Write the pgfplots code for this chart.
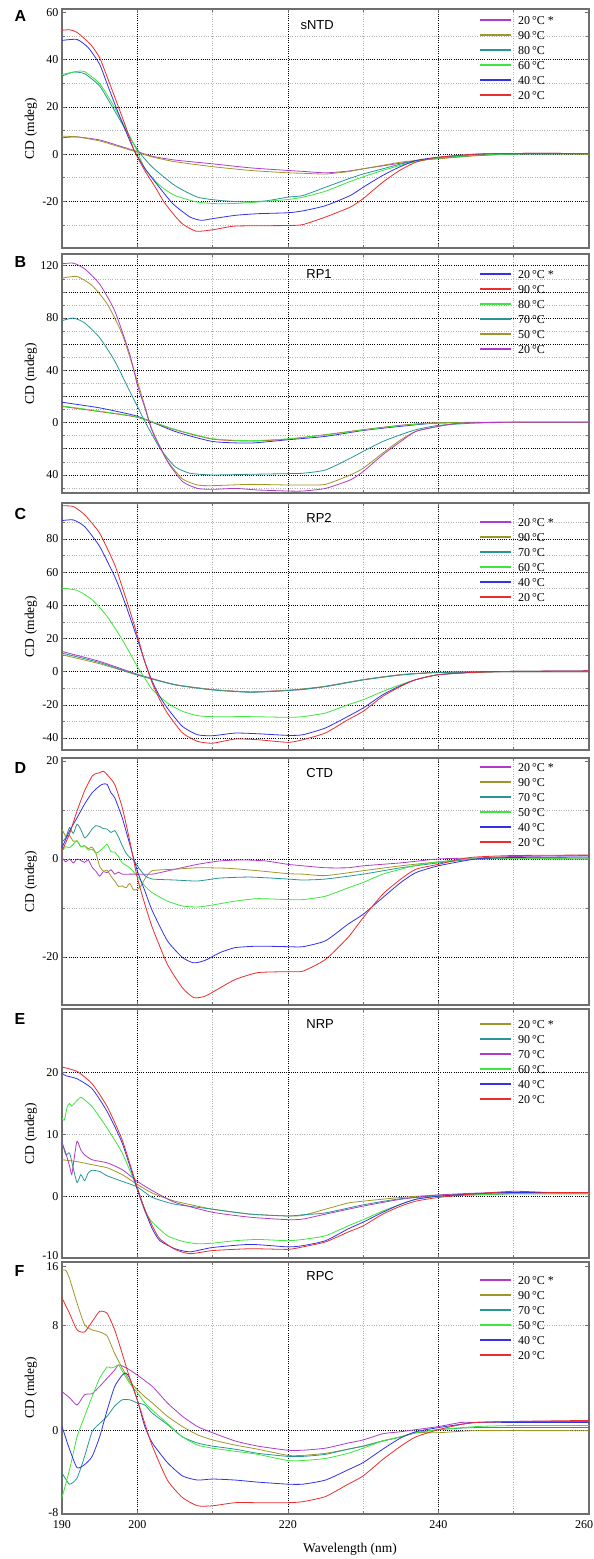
\documentclass[border=0pt]{standalone}
\usepackage{fontspec}
\setmainfont{Liberation Serif}
\newfontfamily\sansf{Liberation Sans}
\usepackage{pgfplots}
\pgfplotsset{compat=1.18}
\definecolor{cpur}{RGB}{175,60,200}
\definecolor{colv}{RGB}{160,150,40}
\definecolor{cteal}{RGB}{40,150,150}
\definecolor{cgrn}{RGB}{60,230,60}
\definecolor{cblu}{RGB}{50,50,230}
\definecolor{cred}{RGB}{235,45,45}
\definecolor{cframe}{RGB}{110,110,110}
\pgfplotsset{cd/.style={
  scale only axis, width=527pt, xmin=190, xmax=260,
  xtick={190,200,220,240,260}, xticklabels={},
  xmajorgrids=false, ymajorgrids=false, xminorgrids=true, yminorgrids=true,
  minor xtick={210,230,250},
  extra x ticks={200,220,240}, extra x tick labels={}, extra x tick style={grid=major},
  extra y tick labels={}, extra y tick style={grid=major},
  major grid style={black, line width=0.7pt, dash pattern=on 0.9pt off 1.3pt},
  minor grid style={black!30, line width=0.6pt, dash pattern=on 0.9pt off 1.5pt},
  axis line style={cframe, line width=1.2pt},
  tick style={cframe, line width=0.6pt}, tick align=inside, major tick length=4pt, minor tick length=3pt,
  ylabel={CD (mdeg)},
  ylabel style={at={(axis description cs:-0.0588,0.5)}, anchor=center, font=\fontsize{13.5}{13.5}\selectfont},
  ticklabel style={font=\fontsize{12}{12}\selectfont},
  legend cell align=left,
  legend style={draw=none, fill=none, anchor=north west, inner sep=0pt, row sep=0pt, column sep=6pt,
    font=\fontsize{12}{12}\selectfont, nodes={inner sep=0pt, text height=11.5pt, text depth=3.5pt}},
  legend image code/.code={\draw[#1,line width=1.8pt] (0pt,0pt) -- (31pt,0pt);},
  every axis plot/.append style={line width=0.8pt, no marks, smooth, tension=0.35},
}}
\begin{document}
\begin{tikzpicture}
\useasboundingbox (0pt,0pt) rectangle (594pt,1559pt);
% ---------------- A ----------------
\begin{axis}[cd, at={(62pt,1311pt)}, anchor=south west, height=239pt, ymin=-39.7, ymax=61.4,
  ytick={-20,0,20,40,60}, yticklabels={-20,0,20,40,60},
  extra y ticks={-20,0,20,40}, minor ytick={-30,-10,10,30,50},
  legend style={at={(rel axis cs:0.7913,0.985)}}]
\addplot[cpur] coordinates {(190,6.9)(192,7.3)(195,6.0)(197,4.1)(199.5,1.6)(202,-0.9)(205,-2.5)(210,-4.1)(215,-5.8)(220,-6.9)(222,-7.3)(225,-7.9)(228,-7.2)(230,-6.2)(232.5,-5)(235,-3.8)(237,-2.8)(240,-1.7)(245,-0.5)(250,0.1)(255,0.2)(260,0.2)};
\addlegendentry{20\,°C *}
\addplot[colv] coordinates {(190,7.6)(192,7.3)(195,5.6)(197,3.7)(199.5,1.3)(202,-1.2)(205,-3.2)(210,-5.3)(215,-6.9)(220,-7.9)(222,-8.1)(225,-8.4)(228,-7.4)(230,-6.2)(232.5,-4.8)(235,-3.4)(237,-2.7)(240,-2)(245,-0.7)(250,0)(260,0)};
\addlegendentry{90\,°C}
\addplot[cteal] coordinates {(190,33)(191.5,34.7)(193,34)(195,28.8)(197,18.3)(200,2)(202,-5.5)(205,-13.3)(208,-18.2)(211,-19.6)(214,-20.2)(217,-19.8)(220,-18.2)(222,-17.5)(225,-14)(228,-10.5)(230,-8.4)(232.5,-6.3)(235,-4.2)(237,-2.8)(240,-1.6)(245,-0.5)(250,0)(260,0.2)};
\addlegendentry{80\,°C}
\addplot[cgrn] coordinates {(190,33.7)(192,35)(193,34.9)(195,29.8)(197,19.7)(199.8,2.5)(201,-6.1)(203,-13.3)(205,-17.5)(208,-20.3)(211,-21)(214,-20.7)(217,-20)(220,-19.2)(222,-18.2)(225,-15.7)(228,-11.9)(230,-9.6)(232.5,-7)(235,-4.7)(237,-3.2)(240,-1.6)(245,-0.4)(250,0.1)(260,0.2)};
\addlegendentry{60\,°C}
\addplot[cblu] coordinates {(190,48.1)(192,48.5)(193.5,45)(195,38)(196.1,28.8)(197.2,19.7)(198.5,9.5)(199.6,1.5)(201,-6)(202.4,-11.9)(204.7,-20.9)(207,-26.6)(208.5,-28)(210,-27.3)(213,-25.9)(216,-25.2)(220,-24.8)(222,-24)(225,-21.8)(228.3,-17.5)(230,-14)(232.6,-9)(234.8,-5.5)(237,-2.7)(240,-1.3)(245,0)(250,0.3)(260,0.3)};
\addlegendentry{40\,°C}
\addplot[cred] coordinates {(190,52.4)(191,52.6)(192,51.5)(193.8,46.4)(195,40.8)(196.1,31.8)(197.2,22.5)(198.5,11.3)(199.6,1.5)(201,-7)(202.4,-14)(203.5,-20)(204.7,-25)(206,-29.5)(207.8,-32.6)(210,-32)(212.7,-30.5)(215.3,-30.3)(220,-30.2)(222,-29.8)(225,-26.6)(228.3,-22.4)(230,-18.8)(232.6,-11.9)(234.8,-7)(237,-3.4)(240,-1.3)(245,0)(250,0.3)(260,0.3)};
\addlegendentry{20\,°C}
\node[anchor=west, font=\sansf\fontsize{13}{13}\selectfont] at (rel axis cs:0.446,0.933) {sNTD};
\end{axis}
% ---------------- B ----------------
\begin{axis}[cd, at={(62pt,1066pt)}, anchor=south west, height=239pt, ymin=-53.8, ymax=129,
  ytick={-40,0,40,80,120}, yticklabels={40,0,40,80,120},
  extra y ticks={-40,-20,0,20,40,60,80,100,120}, minor ytick={-50,-30,-10,10,30,50,70,90,110},
  legend style={at={(rel axis cs:0.7913,0.948)}}]
\addplot[cblu] coordinates {(190,15.6)(195,11.3)(200,4.9)(205,-6.7)(210,-14.4)(215,-15.6)(220,-13.1)(225,-10.5)(230,-6)(235,-2.8)(240,-0.3)(250,0.3)(260,0.3)};
\addlegendentry{20\,°C *}
\addplot[cred] coordinates {(190,12.4)(195,8.5)(200,4.1)(205,-5.4)(210,-12.6)(215,-14.1)(220,-12.6)(225,-9.2)(230,-5.4)(235,-2)(240,0)(250,0.3)(260,0.3)};
\addlegendentry{90\,°C}
\addplot[cgrn] coordinates {(190,12.8)(195,8.8)(200,4.3)(205,-5.2)(210,-12.3)(215,-13.8)(220,-12.4)(225,-9.4)(230,-5.6)(235,-2.2)(240,-0.2)(250,0.2)(260,0.2)};
\addlegendentry{80\,°C}
\addplot[cteal] coordinates {(190,78)(191.5,80)(193,76.3)(195,65)(197,47.2)(199,24)(200,12.6)(201,1)(203,-19.5)(205,-33.6)(207,-38.7)(210,-40)(215,-39.5)(220,-39)(222,-38.7)(225,-36.2)(228.3,-27.2)(230,-22)(232.6,-14.4)(235,-9.2)(237,-5.4)(240,-2.1)(245,-0.3)(250,0.2)(260,0.3)};
\addlegendentry{70\,°C}
\addplot[colv] coordinates {(190,110.5)(192,111.8)(194,104.9)(196,90.8)(198,67.7)(200,31.8)(201,12.8)(202,-5.9)(204,-29)(206,-43)(208,-47.7)(210,-48.2)(215,-47.2)(220,-47.7)(222,-47.7)(225,-47.2)(228.3,-40)(230,-34.9)(232.6,-23.3)(235,-13.1)(237,-6.7)(240,-2.8)(243,-0.3)(250,0.2)(260,0.3)};
\addlegendentry{50\,°C}
\addplot[cpur] coordinates {(190,121.5)(191.5,122)(193,117.7)(195,106)(197,85.6)(199,52.3)(200,29)(201,11.5)(202,-6.7)(204,-29.7)(206,-45)(208,-50.3)(210,-51)(213,-50.3)(216,-51.5)(220,-52.3)(222,-52.3)(225,-50.3)(228.3,-43.8)(230,-37.4)(232.6,-24.6)(235,-14.4)(237,-6.7)(240,-2.8)(243,-0.3)(250,0.3)(260,0.3)};
\addlegendentry{20\,°C}
\node[anchor=west, font=\sansf\fontsize{13}{13}\selectfont] at (rel axis cs:0.457,0.916) {RP1};
\end{axis}
% ---------------- C ----------------
\begin{axis}[cd, at={(62pt,809pt)}, anchor=south west, height=247pt, ymin=-47.2, ymax=101.7,
  ytick={-40,-20,0,20,40,60,80}, yticklabels={-40,-20,0,20,40,60,80},
  extra y ticks={-40,-20,0,20,40,60,80}, minor ytick={-30,-10,10,30,50,70,90},
  legend style={at={(rel axis cs:0.7913,0.953)}}]
\addplot[cpur] coordinates {(190,12.2)(195,6.2)(200,-1.5)(205,-7.8)(210,-10.8)(215,-12.2)(220,-11.2)(222,-10.8)(225,-8.8)(230,-4.8)(235,-1.8)(240,-0.4)(250,0)(260,0)};
\addlegendentry{20\,°C *}
\addplot[colv] coordinates {(190,10.2)(195,4.8)(200,-2)(205,-7.8)(210,-10.8)(215,-12.2)(220,-11.2)(225,-8.8)(230,-4.8)(235,-1.8)(240,-0.4)(250,0)(260,0)};
\addlegendentry{90\,°C}
\addplot[cteal] coordinates {(190,11.2)(195,5.5)(200,-1.9)(205,-7.9)(210,-11)(215,-12.4)(220,-11.4)(225,-9)(230,-5)(235,-2)(240,-0.5)(250,0)(260,0)};
\addlegendentry{70\,°C}
\addplot[cgrn] coordinates {(190,50.4)(192,49)(194,43.4)(196,33.3)(198,19.3)(200,3.2)(201,-4)(202,-10.8)(204,-18.9)(206,-23.9)(208,-26.5)(210,-27.1)(215,-27.1)(220,-27.5)(222,-27.1)(225,-24.9)(228,-19.9)(230,-16.9)(232.6,-11.9)(235,-7.8)(237,-4.8)(240,-1.8)(245,-0.3)(250,0.2)(260,0.3)};
\addlegendentry{60\,°C}
\addplot[cblu] coordinates {(190,91.1)(191.5,91.5)(193,87.5)(195,75.5)(197,57.4)(198,46)(199,33.3)(200,20)(201,6)(202,-6)(203,-15)(204,-22)(206,-33)(208,-38)(210,-38.6)(213,-37)(216,-37.4)(220,-38.4)(222,-38)(225,-33.9)(228,-26.9)(230,-21.9)(232.6,-13.9)(235,-8.4)(237,-4.8)(240,-1.8)(245,-0.2)(250,0.2)(260,0.5)};
\addlegendentry{40\,°C}
\addplot[cred] coordinates {(190,100)(191.5,99.6)(193,94.6)(195,83.5)(197,64.5)(198,51)(199,37)(200,22)(201,6)(202,-7)(203,-17)(204,-25)(206,-36.9)(208,-42)(210,-43.1)(213,-40.6)(216,-41)(220,-42.6)(222,-41)(225,-36.9)(228,-28.9)(230,-23.9)(232.6,-14.9)(235,-8.8)(237,-4.8)(240,-1.8)(245,-0.4)(250,0.2)(260,0.5)};
\addlegendentry{20\,°C}
\node[anchor=west, font=\sansf\fontsize{13}{13}\selectfont] at (rel axis cs:0.457,0.939) {RP2};
\end{axis}
% ---------------- D ----------------
\begin{axis}[cd, at={(62pt,554pt)}, anchor=south west, height=247pt, ymin=-29.8, ymax=20.6,
  ytick={-20,0,20}, yticklabels={-20,0,20},
  extra y ticks={-20,0}, minor ytick={-10,10},
  legend style={at={(rel axis cs:0.7913,0.994)}}]
\addplot[cpur] coordinates {(190,0.3)(190.5,-0.6)(191,0)(191.5,-0.8)(192,0)(192.5,-0.3)(193,-0.7)(193.5,-0.2)(194,-1.7)(194.5,-2.5)(195,-3.5)(195.5,-2.6)(196,-2.8)(196.5,-2.2)(197,-3.1)(197.5,-2.7)(198,-3.1)(199,-3.1)(200,-3.1)(202,-3.1)(205,-2.1)(208,-1.1)(211,-0.4)(214,-0.2)(217,-0.4)(220,-1.1)(222,-1.4)(225,-1.8)(228,-1.8)(230,-1.4)(235,-0.8)(240,0)(245,0.2)(250,0.5)(260,0.7)};
\addlegendentry{20\,°C *}
\addplot[colv] coordinates {(190,6.1)(190.5,4.6)(191,4.8)(191.5,3.6)(192,3.7)(192.5,2.5)(193,2.7)(193.5,2.1)(194,2.4)(194.5,1.2)(195,-1.5)(195.5,-2.5)(196,-2.3)(196.5,-3.5)(197,-4.5)(197.5,-5.6)(198,-5.5)(198.5,-5.9)(199,-5.0)(199.5,-6.3)(200,-6.2)(200.5,-5.5)(201,-4.1)(202,-2.4)(205,-2.1)(208,-1.8)(212,-1.9)(216,-2.4)(220,-3)(222,-3.1)(225,-3.4)(230,-2.4)(235,-1.4)(240,-0.6)(245,0)(260,0)};
\addlegendentry{90\,°C}
\addplot[cteal] coordinates {(190,3.5)(190.5,4.3)(191,6.4)(191.5,5.2)(192,7.1)(192.5,6.0)(193,4.3)(193.5,5.0)(194,6.1)(194.5,6.8)(195,6.6)(195.5,6.2)(196,6.1)(196.5,5.4)(197,5.8)(197.5,4.5)(198,2.7)(198.5,1.2)(199,0.3)(199.5,-0.2)(200,-1.4)(201,-3.4)(202,-4.1)(205,-4.3)(208,-4.5)(211,-3.9)(215,-3.7)(220,-4.1)(222,-4.3)(225,-4.1)(230,-3.1)(235,-1.8)(240,-0.8)(245,0)(250,0.2)(260,0.2)};
\addlegendentry{70\,°C}
\addplot[cgrn] coordinates {(190,1.6)(190.5,2.5)(191,2.3)(191.5,3.0)(192,3.7)(192.5,2.5)(193,2.7)(193.5,1.8)(194,2)(194.5,1.2)(195,1.6)(195.5,2.3)(196,3)(196.5,1.5)(197,1.4)(197.5,0.5)(198,-0.8)(199,-1.8)(200,-3.5)(201,-5.5)(202,-6.9)(204,-8.6)(206,-9.6)(208,-9.8)(210,-9.4)(213,-8.6)(216,-8.1)(220,-8.3)(222,-8.3)(225,-7.6)(228,-5.9)(230,-4.8)(232.6,-3.1)(235,-2.1)(237,-1.3)(240,-0.6)(245,0)(260,0)};
\addlegendentry{50\,°C}
\addplot[cblu] coordinates {(190,2.3)(191,5.7)(192,8.4)(193,11.2)(194,13.5)(195,14.9)(195.5,15.3)(196,15.2)(196.5,13.5)(197,12.5)(198,8.4)(199,3)(200,-2.4)(201,-6.5)(202,-10.6)(204,-16.7)(206,-20.1)(207.5,-21.2)(209,-20.7)(211,-19.1)(213,-18.1)(216,-17.8)(220,-17.9)(222,-17.9)(225,-16.7)(228,-13.3)(230,-11.3)(232.6,-7.9)(235,-4.8)(237,-2.8)(240,-1.4)(245,0)(250,0.3)(260,0.4)};
\addlegendentry{40\,°C}
\addplot[cred] coordinates {(190,1.6)(191,5.1)(192,9.8)(193,13.9)(194,16.9)(194.5,17.4)(195,17.6)(195.5,17.9)(196,17.2)(197,15.2)(198,10.5)(199,3.7)(200,-3.8)(201,-9.2)(202,-14)(204,-21.5)(206,-26.3)(207.5,-28.3)(209,-28)(211,-26.3)(213,-24.6)(216,-23.2)(220,-23)(222,-22.9)(225,-20.5)(228,-16)(230,-12)(232.6,-7.2)(235,-4.1)(237,-2.1)(240,-1.1)(243,0)(245,0.4)(250,0.7)(260,0.8)};
\addlegendentry{20\,°C}
\node[anchor=west, font=\sansf\fontsize{13}{13}\selectfont] at (rel axis cs:0.457,0.939) {CTD};
\end{axis}
% ---------------- E ----------------
\begin{axis}[cd, at={(62pt,301pt)}, anchor=south west, height=249pt, ymin=-10, ymax=30.3,
  ytick={-10,0,10,20}, yticklabels={\raisebox{4pt}{-10},0,10,20},
  extra y ticks={0,20}, minor ytick={10},
  legend style={at={(rel axis cs:0.7913,0.970)}}]
\addplot[colv] coordinates {(190,5.9)(192,5.6)(194,5.1)(196,4.6)(198,3.5)(200,1.9)(202,0.5)(205,-0.8)(210,-2.1)(215,-2.9)(220,-3.2)(222,-3.1)(225,-2.1)(228,-1.1)(230,-0.8)(235,-0.2)(240,0.2)(250,0.4)(260,0.4)};
\addlegendentry{20\,°C *}
\addplot[cteal] coordinates {(190,8.9)(190.5,6.7)(191,7)(191.5,4.5)(192,2.2)(192.5,3.5)(193,2.5)(193.5,3.8)(194,4.2)(195,4)(196,3.3)(198,2.4)(200,1.5)(202,-0.2)(205,-1.3)(210,-2.1)(215,-2.9)(220,-3.2)(222,-3)(225,-2.7)(230,-1.4)(235,-0.4)(240,0)(250,0.4)(260,0.4)};
\addlegendentry{90\,°C}
\addplot[cpur] coordinates {(190,8.6)(190.5,7)(191,4.9)(191.3,3.5)(191.6,6)(192,8.9)(192.5,7.5)(193,6.7)(194,5.9)(196,5.4)(198,4.3)(200,2.4)(202,0.9)(205,-1)(210,-2.6)(215,-3.4)(220,-3.8)(222,-3.7)(225,-2.9)(230,-1.6)(235,-0.5)(240,0.2)(245,0.5)(250,0.6)(260,0.6)};
\addlegendentry{70\,°C}
\addplot[cgrn] coordinates {(190,12.6)(190.3,12.3)(190.7,14.5)(191,15)(191.3,14.6)(192,15.5)(192.5,16)(193,15.6)(194,14.5)(195,12.8)(196,11)(198,7)(200,1.2)(201,-2.4)(202,-4.2)(204,-6.4)(206,-7.3)(208,-7.7)(210,-7.6)(213,-7.2)(216,-7)(220,-7.2)(222,-7)(225,-6.4)(228,-4.8)(230,-3.8)(232.6,-2.4)(235,-1.3)(237,-0.5)(240,0)(250,0.4)(260,0.4)};
\addlegendentry{60\,°C}
\addplot[cblu] coordinates {(190,19.9)(190.5,19.5)(192,19)(194,17.4)(196,13.7)(198,8.6)(200,1.1)(201,-2.3)(202,-5.3)(203,-7.2)(205,-8.5)(207,-9)(210,-8.3)(215,-7.8)(220,-8.2)(222,-8)(225,-7.2)(228,-5.3)(230,-4.2)(232.6,-2.6)(235,-1.3)(237,-0.5)(240,0)(245,0.4)(250,0.6)(260,0.6)};
\addlegendentry{40\,°C}
\addplot[cred] coordinates {(190,20.9)(192,20.2)(194,18.2)(196,14.5)(198,9.1)(200,1.4)(201,-2.1)(202,-4.8)(203,-6.9)(205,-8.6)(207,-9.3)(210,-8.8)(215,-8.5)(220,-8.6)(222,-8.2)(225,-7.4)(228,-5.8)(230,-4.8)(232.6,-2.9)(235,-1.6)(237,-0.8)(240,-0.2)(245,0.4)(250,0.8)(255,0.6)(260,0.6)};
\addlegendentry{20\,°C}
\node[anchor=west, font=\sansf\fontsize{13}{13}\selectfont] at (rel axis cs:0.457,0.94) {NRP};
\end{axis}
% ---------------- F ----------------
\begin{axis}[cd, at={(62pt,45pt)}, anchor=south west, height=252pt, ymin=-8.1, ymax=16.4,
  xticklabels={190,200,220,240,\hspace*{-10pt}260},
  xticklabel style={yshift=-3pt},
  xlabel={Wavelength (nm)},
  xlabel style={at={(axis description cs:0.5465,-0.139)}, anchor=center, font=\fontsize{13.5}{13.5}\selectfont},
  ytick={-8,0,10.2,16}, yticklabels={-8,0,8,16},
  extra y ticks={0}, minor ytick={10.2},
  legend style={at={(rel axis cs:0.7913,0.958)}}]
\addplot[cpur] coordinates {(190,3.8)(191,3.2)(192,2.5)(193,3.5)(194,3.6)(195,4.3)(196,5.1)(197,5.9)(197.5,6.4)(198,6.3)(199,5.9)(200,5.4)(202,4.3)(204,2.7)(206,1.4)(208,0.4)(210,-0.2)(213,-1)(216,-1.5)(220,-1.9)(222,-1.9)(225,-1.7)(228,-1.2)(230,-0.9)(232.6,-0.3)(235,-0.1)(237,0.1)(240,0.4)(243,0.8)(245,0.8)(250,0.9)(260,0.9)};
\addlegendentry{20\,°C *}
\addplot[colv] coordinates {(190,15.6)(190.5,15.6)(191,14.8)(192,12.4)(193,10.3)(194,9.8)(195,9.6)(196,9.2)(197,7.5)(198,6.1)(199,4.8)(200,4)(201,3.3)(202,2.7)(204,1.4)(206,0.4)(208,-0.4)(210,-0.9)(213,-1.4)(216,-1.8)(220,-2.4)(222,-2.4)(225,-2.2)(228,-1.8)(230,-1.5)(232.6,-1)(235,-0.6)(237,-0.2)(240,-0.2)(245,0)(260,0)};
\addlegendentry{90\,°C}
\addplot[cteal] coordinates {(190,-4.1)(191,-5.2)(192,-4.6)(193,-2.5)(194,-0.1)(195,0.7)(196,1.4)(197,2.4)(198,3)(199,3)(200,2.7)(201,2.5)(202,1.7)(204,0.6)(206,-0.6)(208,-1.2)(210,-1.5)(213,-1.8)(216,-2.2)(220,-2.5)(222,-2.5)(225,-2.3)(228,-1.8)(230,-1.5)(232.6,-1)(235,-0.6)(237,-0.2)(240,0.1)(245,0.3)(260,0.3)};
\addlegendentry{70\,°C}
\addplot[cgrn] coordinates {(190,-6.5)(191,-3.8)(192,-0.6)(193,1.4)(194,3.3)(195,5.1)(196,6.2)(196.5,6.1)(197,6.2)(197.5,6.4)(198,5.8)(199,4.6)(200,3.7)(201,2.7)(202,2)(204,0.7)(206,-0.6)(208,-1.4)(210,-1.7)(213,-2)(216,-2.3)(220,-2.9)(222,-2.9)(225,-2.7)(228,-2.2)(230,-1.7)(232.6,-1)(235,-0.6)(237,-0.2)(240,0.1)(245,0.4)(250,0.5)(260,0.5)};
\addlegendentry{50\,°C}
\addplot[cblu] coordinates {(190,0.4)(191,-1.8)(192,-3.6)(193,-3.3)(194,-2.5)(195,-0.6)(196,2)(197,4.3)(198,5.4)(198.5,5.6)(199,5.1)(200,3)(201,0.4)(202,-1.2)(204,-3.1)(206,-4.4)(208,-4.8)(210,-4.7)(213,-4.8)(216,-5)(220,-5.2)(222,-5.2)(225,-4.8)(228,-3.8)(230,-3.1)(232.6,-1.8)(235,-0.7)(237,-0.1)(240,0.3)(245,0.8)(250,0.8)(260,0.8)};
\addlegendentry{40\,°C}
\addplot[cred] coordinates {(190,12.9)(191,11.4)(192,9.8)(193,9.6)(194,10.6)(195,11.6)(196,11.4)(197,9.8)(198,7.5)(199,5.1)(200,3)(201,0.7)(202,-1.5)(204,-4.8)(206,-6.5)(208,-7.3)(210,-7.3)(213,-7)(216,-7)(220,-7)(222,-6.9)(225,-6.4)(228,-5.2)(230,-4.4)(232.6,-2.8)(235,-1.5)(237,-0.6)(240,0.1)(243,0.6)(245,0.8)(250,0.9)(260,1)};
\addlegendentry{20\,°C}
\node[anchor=west, font=\sansf\fontsize{13}{13}\selectfont] at (rel axis cs:0.457,0.944) {RPC};
\end{axis}
% panel letters
\begin{scope}[every node/.style={anchor=west, font=\sansf\bfseries\fontsize{16}{16}\selectfont}]
\node at (11pt,1543pt) {A};
\node at (11pt,1297pt) {B};
\node at (11pt,1045pt) {C};
\node at (11pt,791pt) {D};
\node at (11pt,540pt) {E};
\node at (11pt,288pt) {F};
\end{scope}
\end{tikzpicture}
\end{document}
